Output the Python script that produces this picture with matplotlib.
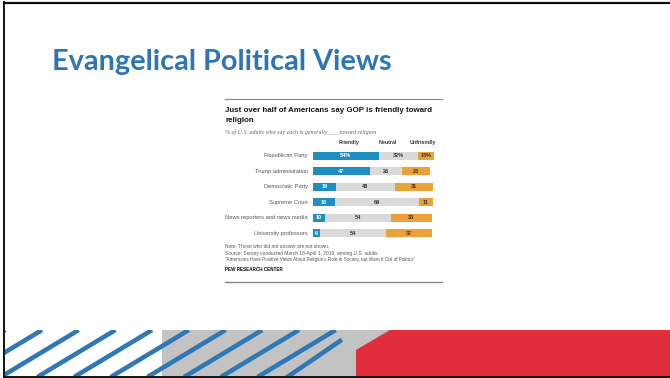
import numpy as np
import matplotlib
matplotlib.use("Agg")
import matplotlib.pyplot as plt
from matplotlib.patches import Rectangle, Polygon

# --- chart data (Pew Research Center) ---
categories = ["Republican Party", "Trump administration", "Democratic Party",
              "Supreme Court", "News reporters and news media", "University professors"]
friendly = [54, 47, 19, 18, 10, 6]
neutral = [32, 26, 48, 69, 54, 54]
unfriendly = [13, 23, 31, 11, 33, 37]
friendly_labels = ["54%", "47", "19", "18", "10", "6"]
neutral_labels = ["32%", "26", "48", "69", "54", "54"]
unfriendly_labels = ["13%", "23", "31", "11", "33", "37"]
headers = ["Friendly", "Neutral", "Unfriendly"]

W, H = 670, 378
BLUE = "#2E75B6"
C_FR, C_NE, C_UN = "#1F8EC2", "#DADADA", "#EBA13A"

fig = plt.figure(figsize=(W / 100, H / 100), dpi=100)

def fx(x):
    return x / W

def fy(y):
    return 1 - y / H

# background axes in pixel coordinates (slide decoration)
bg = fig.add_axes([0, 0, 1, 1])
bg.set_xlim(0, W)
bg.set_ylim(H, 0)
bg.axis("off")

# bottom band: white with stripes, gray with stripes, red block
band_top, band_bot = 330, 376
bg.add_patch(Rectangle((162, band_top), 228, band_bot - band_top, color="#C3C3C3", lw=0, zorder=1))
clip = Polygon([(5, band_top), (390, band_top), (356, 350), (356, band_bot), (5, band_bot)],
               closed=True, transform=bg.transData, visible=False)
bg.add_patch(clip)
for k in range(-3, 9):
    xt = 42 + 36.7 * k
    ln, = bg.plot([xt - 78, xt], [band_bot + 1, band_top], color="#2E78B7", lw=3.3,
                  solid_capstyle="butt", zorder=2)
    ln.set_clip_path(clip)
ln, = bg.plot([340 - 60, 340], [band_bot + 1 + 5, 341], color="#2E78B7", lw=3.3, zorder=2)
ln.set_clip_path(clip)
bg.add_patch(Polygon([(356, band_bot), (356, 350), (390, band_top), (W, band_top), (W, band_bot)],
                     closed=True, color="#E22D3D", lw=0, zorder=3))

# slide frame (top, left, bottom only)
bg.plot([4, W], [2.5, 2.5], color="#111111", lw=1.6, zorder=5)
bg.plot([4, 4], [2, band_bot + 0.5], color="#111111", lw=1.4, zorder=5)
bg.plot([4, W], [band_bot + 0.5, band_bot + 0.5], color="#111111", lw=1.4, zorder=5)

# slide title, fitted to its width in the reference
t = fig.text(fx(52), fy(70), "Evangelical Political Views", color=BLUE, fontsize=21,
             fontweight="bold", family="Lato", ha="left", va="baseline")
fig.canvas.draw()
w = t.get_window_extent().width
t.set_fontsize(21 * 340 / w)

# embedded chart rules
bg.plot([225, 442], [99, 99], color="#888888", lw=0.8, zorder=2)
bg.plot([225, 442], [281.5, 281.5], color="#888888", lw=1.0, zorder=2)

sans = "Liberation Sans"
fig.text(fx(225), fy(110.5), "Just over half of Americans say GOP is friendly toward",
         fontsize=5.65, fontweight="bold", family=sans, va="center", color="#111111")
fig.text(fx(225), fy(120.5), "religion", fontsize=5.65, fontweight="bold", family=sans,
         va="center", color="#111111")
fig.text(fx(225), fy(132), "% of U.S. adults who say each is generally ___ toward religion",
         fontsize=4.3, style="italic", family="Liberation Serif", va="center", color="#666666")

# bar axes
row_y0, row_step = 155.7, 15.5
ax_left, ax_unit = 312.7, 1.225
top = row_y0 - row_step / 2
bottom = row_y0 + row_step * (len(categories) - 0.5)
ax = fig.add_axes([fx(ax_left), fy(bottom), 100 * ax_unit / W, (bottom - top) / H])
ax.set_xlim(0, 100)
ax.set_ylim(len(categories) - 0.5, -0.5)
ax.axis("off")

y = np.arange(len(categories))
fr = np.array(friendly)
ne = np.array(neutral)
un = np.array(unfriendly)
bh = 0.52
ax.barh(y, fr, height=bh, color=C_FR, lw=0)
ax.barh(y, ne, left=fr, height=bh, color=C_NE, lw=0)
ax.barh(y, un, left=fr + ne, height=bh, color=C_UN, lw=0)

for i in range(len(categories)):
    ax.text(fr[i] / 2, y[i], friendly_labels[i], ha="center", va="center", color="white",
            fontsize=4.0, fontweight="bold", family=sans)
    ax.text(fr[i] + ne[i] / 2, y[i], neutral_labels[i], ha="center", va="center", color="#333333",
            fontsize=4.0, fontweight="bold", family=sans)
    ax.text(fr[i] + ne[i] + un[i] / 2, y[i], unfriendly_labels[i], ha="center", va="center",
            color="#333333", fontsize=4.0, fontweight="bold", family=sans)
    ax.text(-4, y[i], categories[i], ha="right", va="center", color="#555555",
            fontsize=4.15, family=sans)

hdr_x = [349, 388, 423]
for h, hx in zip(headers, hdr_x):
    fig.text(fx(hx), fy(142.7), h, ha="center", va="center", fontsize=3.8, fontweight="bold",
             family=sans, color="#333333")

# notes
fig.text(fx(225), fy(246.7), "Note: Those who did not answer are not shown.",
         fontsize=3.5, family=sans, va="center", color="#555555")
fig.text(fx(225), fy(253.5), "Source: Survey conducted March 18-April 1, 2019, among U.S. adults.",
         fontsize=3.5, family=sans, va="center", color="#555555")
fig.text(fx(225), fy(260), "\u201cAmericans Have Positive Views About Religion\u2019s Role in Society, "
         "but Want It Out of Politics\u201d", fontsize=3.3, family=sans, va="center", color="#555555")
fig.text(fx(225), fy(269.3), "PEW RESEARCH CENTER", fontsize=3.3, fontweight="bold",
         family=sans, va="center", color="#111111")

fig.savefig("out.png", dpi=100)
